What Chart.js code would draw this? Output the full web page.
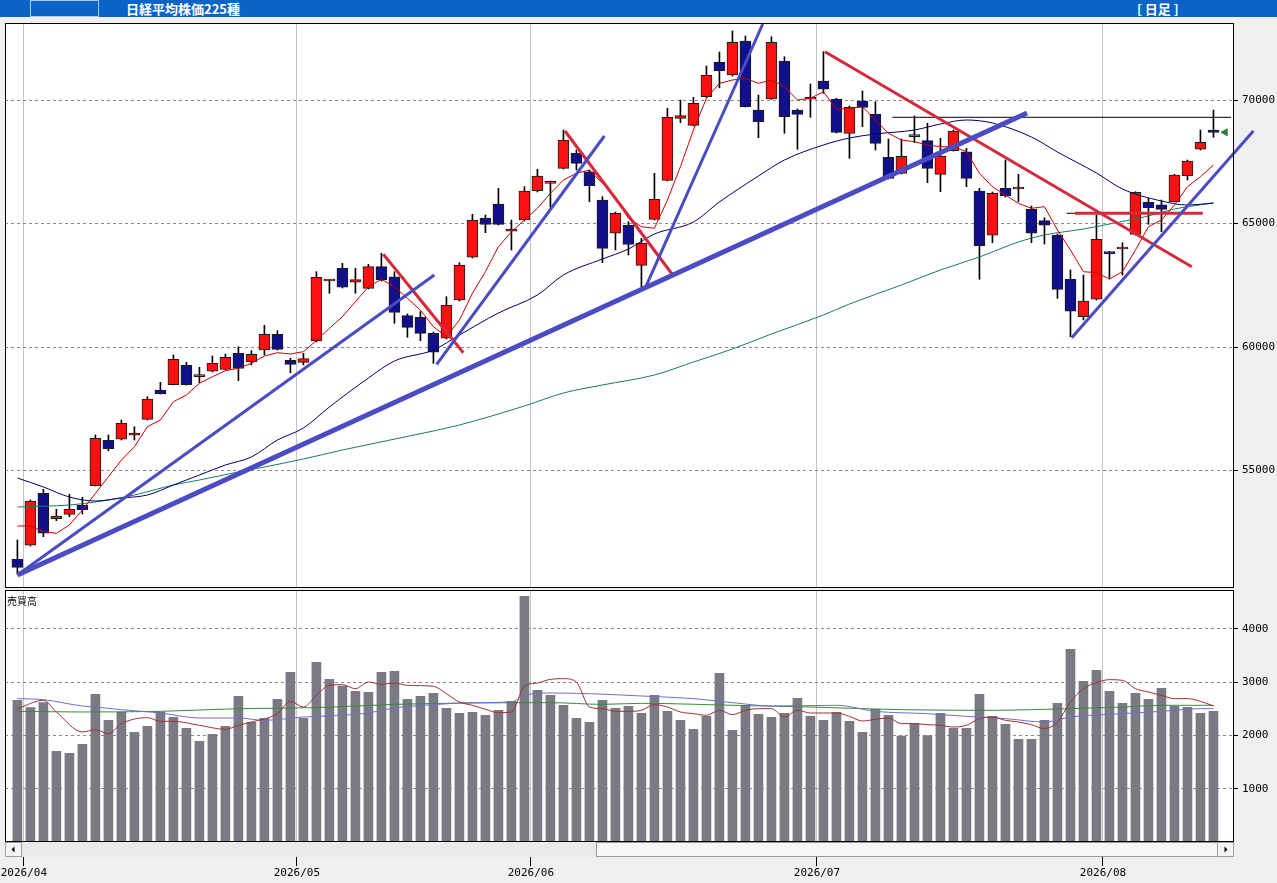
<!DOCTYPE html>
<html lang="ja">
<head>
<meta charset="UTF-8" />
<title>日経平均株価225種 日足</title>
<script src="https://cdn.jsdelivr.net/npm/chart.js"></script>
<style>
  body {
    margin: 0;
    width: 1277px;
    height: 883px;
    position: relative;
    overflow: hidden;
    background-color: #f0f0f0;
    font-family: "Noto Sans CJK JP", sans-serif;
  }
  .head {
    position: absolute; left: 0; top: 0;
    width: 1277px; height: 17px;
    background-color: #0a64c8;
    color: #fff; font-weight: bold; font-size: 13px; line-height: 17px;
  }
  .head .box {
    position: absolute; left: 30px; top: 0px;
    width: 67px; height: 15px;
    border: 1px solid #a8cdf0;
  }
  .head .title { position: absolute; left: 126px; top: 0; }
  .head .kind { position: absolute; left: 1137px; top: 0; white-space: pre; }
  #price { position: absolute; left: 0; top: 18px; }
  #volume { position: absolute; left: 0; top: 589px; }
  .vlabel { position: absolute; left: 7px; top: 593px; font-size: 10px; color: #000; }
</style>
</head>
<body>
<div class="head">
  <div class="box"></div>
  <div class="title">日経平均株価225種</div>
  <div class="kind">[ 日足 ]</div>
</div>
<canvas id="price" width="1277" height="571"></canvas>
<canvas id="volume" width="1277" height="294"></canvas>
<div class="vlabel">売買高</div>

<script>
  // daily candles, index 0 = 2026/03/31
  const opens = [51405,51972,54077,53049,53227,53591,54385,56223,56264,56426,
    57073,58260,58474,59259,58798,59017,59097,59745,59405,59879,
    60514,59462,59381,60243,62672,63187,62620,62377,63252,62846,
    61268,61203,60555,60353,61903,63640,65223,65789,64685,65142,
    66328,66628,67235,67843,67097,65952,64604,64928,63308,65170,
    66749,69259,68976,70134,71527,71013,72389,69595,70041,71579,
    69595,70030,70769,70041,68652,69960,69421,67680,67033,68515,
    68355,66992,67948,67907,66316,64523,66425,66397,65575,65114,
    64535,62741,61227,61932,63850,63968,64563,65859,65752,65883,
    66936,68005,68786];
  const highs = [52186,53806,54239,53429,54037,53915,56438,56438,57045,56774,
    57988,58571,59676,59381,59178,59636,59717,60012,59850,60879,
    60660,59543,59745,63049,62713,63389,63187,63349,63794,63049,
    61337,61431,60607,62037,63413,65373,65345,66426,65142,66490,
    67195,66721,68786,67976,67166,66085,65466,65073,64401,67033,
    69664,70000,70110,71377,71944,72794,72591,70203,72563,71753,
    69636,70648,71956,70069,69757,70365,69932,68421,68421,69352,
    69057,68450,68786,68045,66425,66276,67571,66992,65709,65236,
    64575,63118,62915,65345,63867,64223,66288,66021,65952,66992,
    67571,68786,69595];
  const lows = [50810,51944,52320,52968,53130,53239,54372,55790,56235,56235,
    57045,58098,58462,58462,58555,58988,59069,58636,59271,59676,
    59879,58960,59271,60203,62174,62389,62174,62349,62672,60960,
    60393,60255,59340,60324,61862,63604,64628,64940,63928,65101,
    66276,65656,67207,67166,65883,63413,63928,63725,62442,65142,
    66721,69081,68948,70101,70498,70972,69717,68474,70020,68652,
    68004,69300,70272,68665,67640,68920,67976,66802,67004,68271,
    66652,66288,67935,66490,62741,64223,66073,65883,64223,64170,
    61972,60417,61094,61903,62753,62915,64535,64968,64668,65871,
    66761,67976,68490];
  const closes = [51081,53765,52458,53158,53429,53413,56304,55883,56911,56518,
    57895,58098,59502,58474,58810,59341,59583,59138,59705,60514,
    59907,59300,59527,62822,62680,62418,62725,63252,62713,61405,
    60798,60555,59786,61689,63308,65142,64968,64968,64778,66316,
    66923,66709,68381,67437,66531,63996,65413,64158,64199,65980,
    69300,69365,69867,71000,71187,72336,69729,69122,72336,69324,
    69421,70080,70434,68693,69705,69705,68247,66830,67716,68543,
    67235,67733,68745,66830,64101,66223,66113,66410,64604,64928,
    62336,61446,61863,64361,63780,63980,66264,65640,65575,66964,
    67531,68288,68693];
  const volumes = [2656,2519,2613,1700,1663,1831,2769,2281,2438,2056,
    2169,2438,2338,2131,1888,2019,2169,2731,2244,2319,
    2675,3181,2319,3369,3050,2925,2825,2806,3181,3200,
    2675,2731,2788,2506,2413,2431,2375,2469,2638,4606,
    2844,2750,2563,2319,2244,2656,2506,2544,2413,2750,
    2450,2281,2113,2356,3163,2094,2563,2394,2338,2413,
    2694,2356,2281,2431,2263,2056,2488,2375,1988,2225,
    1994,2413,2131,2131,2769,2356,2206,1925,1925,2281,
    2600,3613,3013,3219,2825,2600,2788,2675,2881,2544,
    2525,2413,2450];

  // moving averages
  const ma5 = [52753,52753,52523,52458,52794,53401,54077,54749,55425,55964,
    56774,57045,57786,58057,58531,58798,59041,59138,59341,59636,
    59770,59717,59810,60263,60757,61227,61834,62442,62741,62442,
    61972,61498,60822,60417,61093,62174,63049,64061,64668,65142,
    65616,66223,66762,67033,67166,66628,66085,65211,64871,64806,
    65952,67300,68786,70069,70676,70810,70879,70676,70810,70539,
    70000,70069,70336,69624,69664,69729,69191,68652,68381,68312,
    68179,68110,68110,67907,67033,66490,66154,65818,65616,65681,
    64737,63928,63049,63009,62753,63049,63928,64871,65142,65749,
    66490,66895,67369];
  const ma25Idx = [0,2,4,6,8,10,12,14,16,18,20,22,24,27,29,32,34,37,40,42,45,47,49,52,54,57,59,62,64,66,69,71,73,75,78,80,83,85,88,90,92];
  const ma25Val = [54697,54332,53927,53765,53887,54008,54413,54818,55223,55547,
    56235,56721,57571,58745,59434,59879,60486,61377,62106,62915,
    63563,63968,64575,65061,65871,66923,67571,68179,68462,68624,
    68786,69029,69191,69069,68502,67895,67045,66397,65911,65749,65830];
  const ma75Idx = [0,4,6,9,12,14,17,19,22,25,32,34,39,42,45,49,52,55,58,62,64,68,71,74,77,79,82,84,87,89,92];
  const ma75Val = [53523,53604,53725,54008,54413,54616,54940,55142,55466,55830,
    56600,56842,57612,58138,58462,58867,59393,59919,60527,61296,
    61741,62510,63118,63644,64251,64535,64778,64980,65304,65587,65830];

  const vma5Idx = [0,2,3,5,6,7,8,10,11,12,14,16,17,18,20,21,22,23,24,25,26,27,28,29,30,
    32,33,34,35,36,37,38,39,40,41,42,43,44,45,46,47,48,49,50,51,52,53,54,55,56,57,58,59,60,61,62,
    63,64,65,66,67,68,69,70,71,72,73,74,75,76,77,78,79,80,81,82,83,84,85,86,87,88,89,90,91,92];
  const vma5Val = [2500,2656,2438,2063,2106,2031,2219,2331,2263,2263,2188,2113,2188,2250,
    2406,2638,2531,2750,2938,2950,2875,3000,2956,2981,2938,
    2919,2781,2625,2563,2488,2425,2438,2919,2981,3050,3063,3000,
    2531,2500,2450,2450,2469,2575,2531,2438,2406,2375,
    2469,2388,2469,2500,2500,2344,2469,2419,2419,2419,
    2356,2269,2300,2325,2219,2219,2200,2188,2156,2188,
    2313,2344,2281,2250,2200,2125,2250,2625,2875,2988,
    3044,3031,2875,2813,2750,2688,2688,2638,2550];
  const vma25Idx = [0,2,5,6,8,11,14,17,19,22,25,27,29,32,35,38,39,41,44,48,52,55,58,63,66,70,73,76,79,81,85,88,91,92];
  const vma25Val = [2688,2669,2550,2531,2481,2419,2325,2325,2281,2344,2375,2419,2513,2575,2613,2625,2750,
    2794,2781,2738,2688,2613,2550,2563,2450,2406,2356,2313,2250,2344,2406,2450,2500,2500];
  const vma75Idx = [0,5,11,17,23,29,35,41,45,48,55,61,68,75,78,81,85,88,92];
  const vma75Val = [2450,2438,2450,2500,2519,2581,2606,2613,2581,2600,2563,2531,2481,2469,2481,2500,2531,2563,2563];

  // drawn trend lines: [fromIndex, fromPrice, toIndex, toPrice]
  const blueTrends = [[0,50770,77.66,69474],[0,50770,32.07,62915],[32.25,59300,45.15,68543],
    [48.28,62377,57.33,73077],[81.1,60377,95.07,68744]];
  const redTrends = [[28.15,63753,34.3,59770],[42.12,68745,50.41,62915],
    [62.12,71956,90.33,63251],[81.35,65413,91.18,65413]];
  const levelLines = [[67.3,93.35,69300],[80.7,91.0,65413]];

  const monthStarts = [1, 22, 40, 62, 84];
  const monthLabels = ["2026/04", "2026/05", "2026/06", "2026/07", "2026/08"];
  const priceTicks = [55000, 60000, 65000, 70000];
  const volumeTicks = [1000, 2000, 3000, 4000];

  Chart.defaults.font.family = "'DejaVu Sans Mono', monospace";
  Chart.defaults.font.size = 11;
  Chart.defaults.color = "#000";

  const X_MIN = -0.954;
  const X_MAX = 93.58;
  const idx = opens.map((o, i) => i);
  const pts = (xs, ys) => xs.map((x, i) => ({ x: x, y: ys[i] }));

  const panel = {
    id: "panel",
    beforeDraw(chart) {
      const a = chart.chartArea;
      const ctx = chart.ctx;
      ctx.save();
      ctx.fillStyle = "#fff";
      ctx.fillRect(a.left, a.top, a.right - a.left, a.bottom - a.top);
      ctx.restore();
    },
    afterDraw(chart) {
      const a = chart.chartArea;
      const ctx = chart.ctx;
      ctx.save();
      ctx.strokeStyle = "#000";
      ctx.lineWidth = 1;
      ctx.strokeRect(a.left + 0.5, a.top + 0.5, a.right - a.left - 1, a.bottom - a.top - 1);
      ctx.restore();
    },
  };

  const scrollbar = {
    id: "scrollbar",
    afterDraw(chart) {
      const a = chart.chartArea;
      const ctx = chart.ctx;
      const top = a.bottom;
      const h = 15;
      ctx.save();
      ctx.fillStyle = "#eaeaea";
      ctx.fillRect(a.left, top, a.right - a.left, h);
      // thumb
      ctx.fillStyle = "#f6f6f6";
      ctx.fillRect(596, top + 1, 621, h - 2);
      ctx.strokeStyle = "#9a9a9a";
      ctx.strokeRect(596.5, top + 0.5, 621, h - 1);
      // arrow buttons
      [a.left, a.right - 17].forEach((bx, k) => {
        ctx.fillStyle = "#f4f4f4";
        ctx.fillRect(bx, top, 17, h);
        ctx.strokeStyle = "#a0a0a0";
        ctx.strokeRect(bx + 0.5, top + 0.5, 16, h - 1);
        ctx.fillStyle = "#000";
        ctx.beginPath();
        const cx = bx + 8.5, cy = top + 7.5;
        if (k === 0) {
          ctx.moveTo(cx - 2, cy); ctx.lineTo(cx + 1, cy - 3); ctx.lineTo(cx + 1, cy + 3);
        } else {
          ctx.moveTo(cx + 2, cy); ctx.lineTo(cx - 1, cy - 3); ctx.lineTo(cx - 1, cy + 3);
        }
        ctx.closePath();
        ctx.fill();
      });
      ctx.restore();
    },
  };

  function xScale(showLabels, height) {
    return {
      type: "linear",
      min: X_MIN,
      max: X_MAX,
      offset: false,
      afterBuildTicks: (s) => { s.ticks = monthStarts.map((m) => ({ value: m - 0.5 })); },
      afterFit: (s) => {
        s.height = height;
        s.paddingLeft = 0;
        s.paddingRight = 0;
      },
      ticks: {
        display: showLabels,
        autoSkip: false,
        maxRotation: 0,
        padding: 1,
        callback: (v, i) => monthLabels[i],
      },
      grid: {
        offset: false,
        color: "#c4c4c4",
        drawTicks: showLabels,
        tickLength: 24,
        tickColor: "#000",
      },
      border: { display: false },
    };
  }

  function yScale(min, max, tickValues) {
    return {
      type: "linear",
      position: "right",
      min: min,
      max: max,
      afterBuildTicks: (s) => { s.ticks = tickValues.map((v) => ({ value: v })); },
      afterFit: (s) => {
        s.width = 43;
        s.paddingTop = 0;
        s.paddingBottom = 0;
      },
      ticks: { padding: 4, callback: (v) => String(v) },
      grid: { color: "#8a8a8a", tickLength: 4, tickColor: "#000", tickBorderDash: [] },
      border: { display: false, dash: [3, 3] },
    };
  }

  const lineSet = (data, color, width, extra) => Object.assign({
    type: "line",
    data: data,
    borderColor: color,
    borderWidth: width,
    pointRadius: 0,
    fill: false,
  }, extra || {});

  const trendSets = [];
  blueTrends.forEach((t, i) => {
    trendSets.push(lineSet([{ x: t[0], y: t[1] }, { x: t[2], y: t[3] }], "#4b4bc4", i === 0 ? 5 : 3, { clip: false, order: 0 }));
  });
  redTrends.forEach((t) => {
    trendSets.push(lineSet([{ x: t[0], y: t[1] }, { x: t[2], y: t[3] }], "#d42a3c", 3, { clip: false, order: 0 }));
  });
  levelLines.forEach((l) => {
    trendSets.push(lineSet([{ x: l[0], y: l[2] }, { x: l[1], y: l[2] }], "#000", 1, { order: 1 }));
  });

  const last = closes.length - 1;

  new Chart(document.getElementById("price").getContext("2d"), {
    type: "bar",
    data: {
      datasets: [
        {
          data: idx.map((i) => ({ x: i, y: [lows[i], highs[i]] })),
          backgroundColor: "#000",
          barThickness: 1,
          grouped: false,
          order: 4,
        },
        {
          data: idx.map((i) => ({ x: i, y: [opens[i], closes[i]] })),
          backgroundColor: idx.map((i) => (closes[i] >= opens[i] ? "#ff1010" : "#10108c")),
          borderColor: "#1a1a1a",
          borderWidth: 1,
          borderSkipped: false,
          barThickness: 11,
          minBarLength: 2,
          grouped: false,
          order: 3,
        },
        lineSet(pts(idx, ma5), "#d00000", 1, { order: 2 }),
        lineSet(pts(ma25Idx, ma25Val), "#000070", 1, { order: 2, cubicInterpolationMode: "monotone" }),
        lineSet(pts(ma75Idx, ma75Val), "#1a7a6a", 1, { order: 2, cubicInterpolationMode: "monotone" }),
        ...trendSets,
        lineSet([{ x: last + 0.9, y: closes[last] }], "#2e7d32", 1, {
          showLine: false, pointRadius: 4, pointStyle: "triangle", rotation: -90,
          pointBackgroundColor: "#2e7d32", order: 0, clip: false,
        }),
      ],
    },
    options: {
      responsive: false,
      animation: false,
      layout: { autoPadding: false, padding: { left: 5, top: 5, bottom: 1, right: 0 } },
      plugins: { legend: { display: false }, tooltip: { enabled: false } },
      scales: {
        x: xScale(false, 0),
        y: yScale(50243, 73118, priceTicks),
      },
    },
    plugins: [panel],
  });

  new Chart(document.getElementById("volume").getContext("2d"), {
    type: "bar",
    data: {
      datasets: [
        {
          data: idx.map((i) => ({ x: i, y: volumes[i] })),
          backgroundColor: "#7a7a84",
          barThickness: 9,
          grouped: false,
          order: 3,
        },
        lineSet(pts(vma5Idx, vma5Val), "#a03232", 1, { order: 1, cubicInterpolationMode: "monotone" }),
        lineSet(pts(vma25Idx, vma25Val), "#7070cc", 1, { order: 2, cubicInterpolationMode: "monotone" }),
        lineSet(pts(vma75Idx, vma75Val), "#3a8a3a", 1, { order: 2, cubicInterpolationMode: "monotone" }),
      ],
    },
    options: {
      responsive: false,
      animation: false,
      layout: { autoPadding: false, padding: { left: 5, top: 1, bottom: 0, right: 0 } },
      plugins: { legend: { display: false }, tooltip: { enabled: false } },
      scales: {
        x: xScale(true, 41),
        y: yScale(0, 4725, volumeTicks),
      },
    },
    plugins: [panel, scrollbar],
  });
</script>
</body>
</html>
